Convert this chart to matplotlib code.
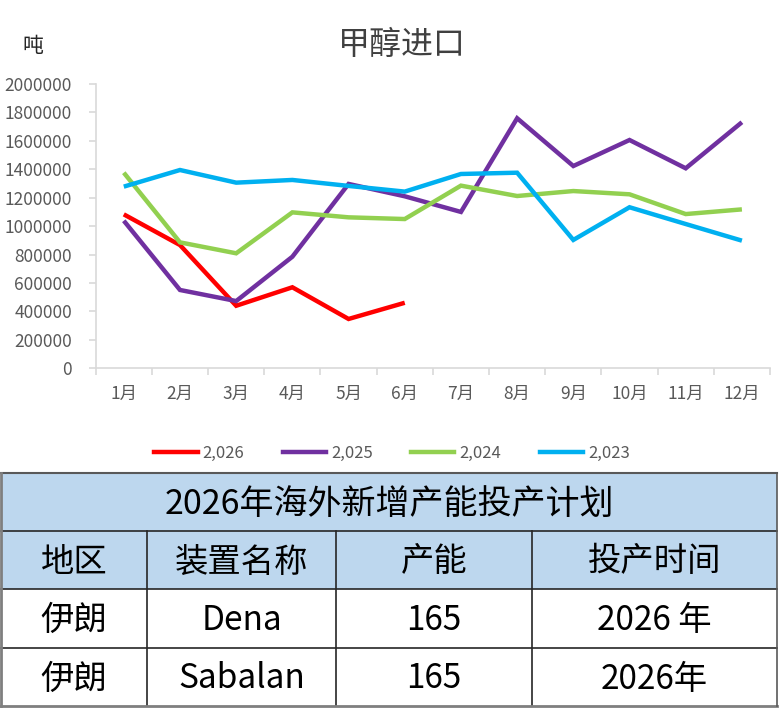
import matplotlib
matplotlib.use("Agg")
import matplotlib.pyplot as plt
from matplotlib.patches import Rectangle
from matplotlib.lines import Line2D

plt.rcParams['font.family'] = ['Noto Sans CJK SC', 'DejaVu Sans']

# chart data (tons)
months = ['1月', '2月', '3月', '4月', '5月', '6月', '7月', '8月', '9月', '10月', '11月', '12月']
years = [2026, 2025, 2024, 2023]
imports_2026 = [1083000, 867000, 440000, 570000, 347000, 461000]
imports_2025 = [1038000, 551000, 473000, 785000, 1297000, 1210000,
                1100000, 1759000, 1423000, 1606000, 1407000, 1731000]
imports_2024 = [1376000, 886000, 809000, 1097000, 1062000, 1050000,
                1285000, 1212000, 1247000, 1224000, 1085000, 1118000]
imports_2023 = [1278000, 1395000, 1306000, 1325000, 1283000, 1243000,
                1367000, 1376000, 903000, 1133000, 1015000, 898000]
series = [imports_2026, imports_2025, imports_2024, imports_2023]
colors = ['#FF0000', '#7030A0', '#92D050', '#00B0F0']
y_ticks = list(range(0, 2000001, 200000))

# table data
table_title = '2026年海外新增产能投产计划'
table_header = ['地区', '装置名称', '产能', '投产时间']
table_rows = [
    ['伊朗', 'Dena', '165', '2026 年'],
    ['伊朗', 'Sabalan', '165', '2026年'],
]

W, H = 780, 726
fig = plt.figure(figsize=(W / 100, H / 100), dpi=100)
fig.patch.set_facecolor('white')

# ---- line chart ----
left, right, top, bottom = 95.7, 770, 84, 368.3
ax = fig.add_axes([left / W, 1 - bottom / H, (right - left) / W, (bottom - top) / H])
xs = range(len(months))
for vals, c in zip(series, colors):
    ax.plot(range(len(vals)), vals, color=c, linewidth=3.2, solid_capstyle='butt',
            solid_joinstyle='miter')

ax.set_xlim(-0.5, len(months) - 0.5)
ax.set_ylim(0, 2000000)
ax.set_yticks(y_ticks)
ax.set_yticklabels([str(v) for v in y_ticks])
ax.set_xticks([i - 0.5 for i in range(len(months) + 1)])
ax.set_xticklabels([])
ax.set_xticks(list(xs), minor=True)
ax.set_xticklabels(months, minor=True)
ax.tick_params(axis='x', which='major', length=5, width=1.2, color='#D9D9D9', direction='out')
ax.tick_params(axis='x', which='minor', length=0, pad=12, labelsize=12.5, labelcolor='#595959')
ax.tick_params(axis='y', length=5, width=1.2, color='#D9D9D9', pad=12,
               labelsize=12.5, labelcolor='#595959')
for s in ['top', 'right']:
    ax.spines[s].set_visible(False)
for s in ['left', 'bottom']:
    ax.spines[s].set_color('#D9D9D9')
    ax.spines[s].set_linewidth(1.2)

fig.text(402 / W, 1 - 45 / H, '甲醇进口', ha='center', va='center', fontsize=23,
         color='#404040', fontweight='medium')
fig.text(33 / W, 1 - 46 / H, '吨', ha='center', va='center', fontsize=15, color='#262626')

handles = [Line2D([], [], color=c, linewidth=3.2) for c in colors]
leg = fig.legend(handles, [f'{y:,}' for y in years], loc='center',
                 bbox_to_anchor=(392 / W, 1 - 453 / H), ncol=4, frameon=False,
                 handlelength=2.6, handletextpad=0.3, columnspacing=2.3,
                 fontsize=12)
for t in leg.get_texts():
    t.set_color('#595959')

# ---- table ----
tab = fig.add_axes([0, 0, 1, 1])
tab.set_xlim(0, W)
tab.set_ylim(H, 0)
tab.axis('off')

col_edges = [1, 147, 336, 532, 777]
row_edges = [473, 531, 589, 648, 706]
header_bg = '#BDD7EE'
fs = 24

tab.add_patch(Rectangle((col_edges[0], row_edges[0]), col_edges[-1] - col_edges[0],
                        row_edges[2] - row_edges[0], facecolor=header_bg, edgecolor='none'))
tab.text((col_edges[0] + col_edges[-1]) / 2, (row_edges[0] + row_edges[1]) / 2 + 2,
         table_title, ha='center', va='center', fontsize=24.5, color='black')

for r, row in enumerate([table_header] + table_rows):
    yc = (row_edges[r + 1] + row_edges[r + 2]) / 2 + 2
    for c, txt in enumerate(row):
        xc = (col_edges[c] + col_edges[c + 1]) / 2
        tab.text(xc, yc, txt, ha='center', va='center', fontsize=fs, color='black')

# grid lines
for y in row_edges[1:-1]:
    tab.plot([col_edges[0], col_edges[-1]], [y, y], color='#262626', linewidth=1.2)
for x in col_edges[1:-1]:
    tab.plot([x, x], [row_edges[1], row_edges[-1]], color='#262626', linewidth=1.2)
tab.plot([col_edges[0], col_edges[-1]], [row_edges[0], row_edges[0]], color='#595959', linewidth=1.5)
tab.plot([col_edges[0], col_edges[-1]], [row_edges[-1], row_edges[-1]], color='#7F7F7F', linewidth=2)
tab.plot([col_edges[0], col_edges[0]], [row_edges[0], row_edges[-1]], color='#7F7F7F', linewidth=2)
tab.plot([col_edges[-1], col_edges[-1]], [row_edges[0], row_edges[-1]], color='#595959', linewidth=1.2)

fig.savefig('out.png', dpi=100, facecolor='white')
